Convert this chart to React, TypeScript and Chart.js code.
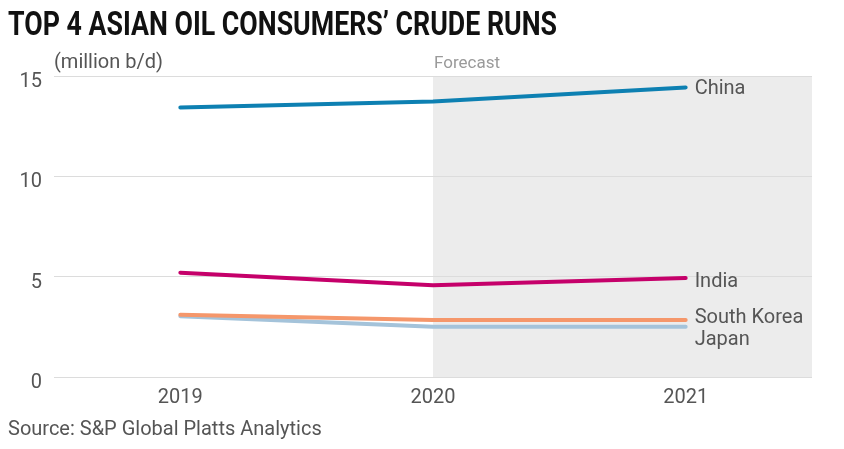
import React, { useEffect, useRef } from "react";
import { Chart, registerables } from "chart.js";

Chart.register(...registerables);

// Crude runs, million barrels per day
const years = ["2019", "2020", "2021"];
const forecastFrom = "2020";
const china = [13.43, 13.73, 14.43];
const india = [5.2, 4.57, 4.93];
const southKorea = [3.1, 2.84, 2.84];
const japan = [3.03, 2.5, 2.5];
const seriesNames = ["China", "India", "South Korea", "Japan"];
const seriesColors = ["#0d80b2", "#c5006a", "#f5976b", "#a4c3da"];
const yMin = 0;
const yMax = 15;
const yStep = 5;

// vertical nudges for the end-of-line labels so they do not collide
const labelNudge = [2, 4, -2, 13];

const FONT = "Roboto, 'Noto Sans', sans-serif";
const TEXT = "#555555";

const decorations = {
  id: "decorations",
  beforeDraw(chart: any) {
    const { ctx, chartArea, scales } = chart;
    const x0 = scales.x.getPixelForValue(years.indexOf(forecastFrom));
    ctx.save();
    ctx.fillStyle = "#ececec";
    ctx.fillRect(x0, chartArea.top, chartArea.right - x0, chartArea.bottom - chartArea.top);
    ctx.restore();
  },
  afterDraw(chart: any) {
    const { ctx, scales } = chart;
    ctx.save();

    // title, squeezed to a condensed look
    const title = "TOP 4 ASIAN OIL CONSUMERS\u2019 CRUDE RUNS";
    ctx.font = `bold 33px ${FONT}`;
    ctx.fillStyle = "#111111";
    ctx.textBaseline = "alphabetic";
    ctx.textAlign = "left";
    const tw = ctx.measureText(title).width;
    const sx = 549 / tw;
    ctx.save();
    ctx.translate(8, 35);
    ctx.scale(sx, 1);
    ctx.fillText(title, 0, 0);
    ctx.restore();

    // unit label
    ctx.font = `20px ${FONT}`;
    ctx.fillStyle = TEXT;
    ctx.textBaseline = "middle";
    ctx.fillText("(million b/d)", 54, 63);

    // forecast marker
    const x0 = scales.x.getPixelForValue(years.indexOf(forecastFrom));
    ctx.font = `17px ${FONT}`;
    ctx.fillStyle = "#9a9a9a";
    ctx.fillText("Forecast", x0 + 1, 64);

    // source
    ctx.font = `20px ${FONT}`;
    ctx.fillStyle = TEXT;
    ctx.fillText("Source: S&P Global Platts Analytics", 8, 430);

    // series labels at the line ends
    chart.data.datasets.forEach((ds: any, i: number) => {
      const meta = chart.getDatasetMeta(i);
      const pt = meta.data[meta.data.length - 1];
      ctx.font = `20px ${FONT}`;
      ctx.fillStyle = TEXT;
      ctx.fillText(ds.label, pt.x + 9, pt.y + labelNudge[i]);
    });

    ctx.restore();
  },
};

export default function App() {
  const ref = useRef<HTMLCanvasElement | null>(null);

  useEffect(() => {
    if (!ref.current) return;
    const values = [china, india, southKorea, japan];
    const chart = new Chart(ref.current, {
      type: "line",
      data: {
        labels: years,
        datasets: values.map((v, i) => ({
          label: seriesNames[i],
          data: v,
          borderColor: seriesColors[i],
          backgroundColor: seriesColors[i],
          borderWidth: 4,
          borderCapStyle: "round",
          borderJoinStyle: "round",
          pointRadius: 0,
          tension: 0,
        })),
      },
      options: {
        animation: false,
        responsive: false,
        devicePixelRatio: 1,
        layout: { padding: { top: 76, left: 0, right: 32, bottom: 0 } },
        plugins: {
          legend: { display: false },
          tooltip: { enabled: false },
          title: { display: false },
        },
        scales: {
          x: {
            type: "category",
            offset: true,
            grid: { display: false, drawTicks: false },
            border: { display: false },
            ticks: {
              color: TEXT,
              font: { family: FONT, size: 20 },
              padding: 9,
              maxRotation: 0,
            },
            afterFit(scale: any) {
              scale.height = 72;
            },
          },
          y: {
            min: yMin,
            max: yMax,
            grid: { color: "#dcdcdc", lineWidth: 1, drawTicks: false },
            border: { display: false },
            ticks: {
              stepSize: yStep,
              color: TEXT,
              font: { family: FONT, size: 20 },
              padding: 12,
              labelOffset: 6,
            },
            afterFit(scale: any) {
              scale.width = 54;
            },
          },
        },
      },
      plugins: [decorations],
    } as any);
    return () => chart.destroy();
  }, []);

  return (
    <div style={{ position: "absolute", left: 0, top: 0, width: 844, height: 449, background: "#ffffff" }}>
      <canvas ref={ref} width={844} height={449} style={{ display: "block" }} />
    </div>
  );
}
